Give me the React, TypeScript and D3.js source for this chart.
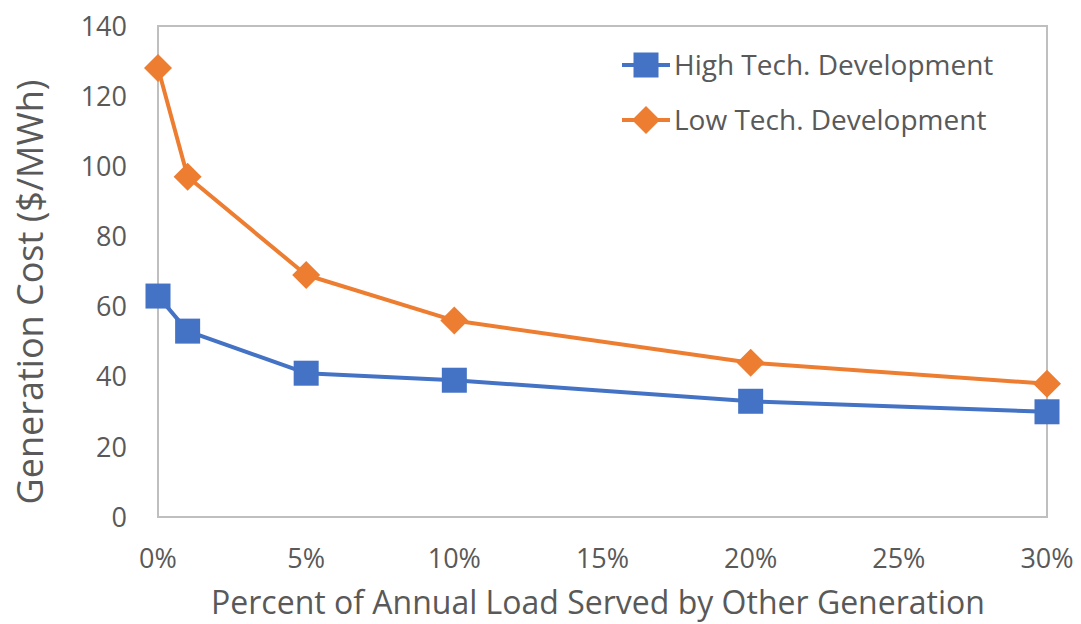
import React from "react";
import * as d3 from "d3";

const percents = [0, 1, 5, 10, 20, 30];
const highTech = [63, 53, 41, 39, 33, 30];
const lowTech = [128, 97, 69, 56, 44, 38];
const yTicks = [0, 20, 40, 60, 80, 100, 120, 140];
const xTicks = [0, 5, 10, 15, 20, 25, 30];
const seriesNames = ["High Tech. Development", "Low Tech. Development"];

const W = 1081, H = 624;
const left = 158, right = 1047, top = 26, bottom = 517;
const font = "'Open Sans', 'Noto Sans', sans-serif";
const textColor = "#595959";
const blue = "#4472C4";
const orange = "#ED7D31";

export default function App() {
  const x = d3.scaleLinear().domain([0, 30]).range([left, right]);
  const y = d3.scaleLinear().domain([0, 140]).range([bottom, top]);
  const line = d3.line<number>().x((_, i) => x(percents[i])).y((d) => y(d));

  const square = (cx: number, cy: number, key: string) => (
    <rect key={key} x={cx - 12.5} y={cy - 12.5} width={25} height={25} fill={blue} />
  );
  const diamond = (cx: number, cy: number, key: string) => (
    <path key={key} d={`M${cx},${cy - 14}L${cx + 14},${cy}L${cx},${cy + 14}L${cx - 14},${cy}Z`} fill={orange} />
  );

  return (
    <svg width={W} height={H} style={{ position: "absolute", left: 0, top: 0, background: "#fff" }}>
      <rect x={left} y={top} width={right - left} height={bottom - top} fill="none" stroke="#bfbfbf" strokeWidth={2} />
      {yTicks.map((t) => (
        <text key={t} x={127} y={y(t)} dy="0.36em" textAnchor="end" fontFamily={font} fontSize={27} fill={textColor}>
          {t}
        </text>
      ))}
      {xTicks.map((t) => (
        <text key={t} x={x(t)} y={568} textAnchor="middle" fontFamily={font} fontSize={27} fill={textColor}>
          {t}%
        </text>
      ))}
      <text x={598} y={614} textAnchor="middle" fontFamily={font} fontSize={32} fill={textColor}>
        Percent of Annual Load Served by Other Generation
      </text>
      <text transform={`translate(43,292) rotate(-90)`} textAnchor="middle" fontFamily={font} fontSize={36} fill={textColor}>
        Generation Cost ($/MWh)
      </text>
      <path d={line(highTech) || ""} fill="none" stroke={blue} strokeWidth={4} strokeLinejoin="round" />
      <path d={line(lowTech) || ""} fill="none" stroke={orange} strokeWidth={4} strokeLinejoin="round" />
      {highTech.map((v, i) => square(x(percents[i]), y(v), "h" + i))}
      {lowTech.map((v, i) => diamond(x(percents[i]), y(v), "l" + i))}
      <g>
        <line x1={622} x2={670} y1={65} y2={65} stroke={blue} strokeWidth={4} />
        {square(646, 65, "lg1")}
        <text x={674} y={65} dy="0.35em" fontFamily={font} fontSize={28} fill={textColor}>{seriesNames[0]}</text>
        <line x1={622} x2={670} y1={120} y2={120} stroke={orange} strokeWidth={4} />
        {diamond(646, 120, "lg2")}
        <text x={674} y={120} dy="0.35em" fontFamily={font} fontSize={28} fill={textColor}>{seriesNames[1]}</text>
      </g>
    </svg>
  );
}
